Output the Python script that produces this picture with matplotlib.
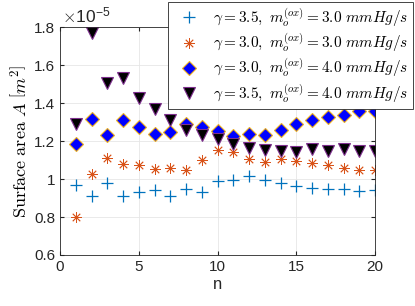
import matplotlib.pyplot as plt
import numpy as np

plt.rcParams['font.family'] = 'Liberation Sans'
plt.rcParams['mathtext.fontset'] = 'cm'

n = np.arange(1, 21)

# surface area, in units of 1e-5 m^2
a_35_30 = [0.971, 0.909, 0.977, 0.909, 0.932, 0.941, 0.909, 0.950, 0.930, 0.990,
           0.997, 1.018, 0.997, 0.981, 0.962, 0.955, 0.948, 0.946, 0.939, 0.941]
a_30_30 = [0.799, 1.028, 1.110, 1.077, 1.073, 1.052, 1.060, 1.046, 1.098, 1.155,
           1.140, 1.103, 1.089, 1.105, 1.094, 1.086, 1.073, 1.056, 1.047, 1.049]
a_30_40 = [1.182, 1.315, 1.229, 1.313, 1.276, 1.238, 1.249, 1.287, 1.276, 1.254,
           1.228, 1.238, 1.229, 1.259, 1.289, 1.312, 1.327, 1.336, 1.357, 1.360]
a_35_40 = [1.290, 1.769, 1.507, 1.530, 1.427, 1.369, 1.308, 1.259, 1.233, 1.208,
           1.186, 1.165, 1.154, 1.145, 1.142, 1.160, 1.149, 1.156, 1.147, 1.149]

labels = [r'$\gamma = 3.5,\ m_o^{(ox)} = 3.0\ mmHg/s$',
          r'$\gamma = 3.0,\ m_o^{(ox)} = 3.0\ mmHg/s$',
          r'$\gamma = 3.0,\ m_o^{(ox)} = 4.0\ mmHg/s$',
          r'$\gamma = 3.5,\ m_o^{(ox)} = 4.0\ mmHg/s$']

fig = plt.figure(figsize=(4.15, 3.06), dpi=100)
ax = fig.add_axes([60/415, 1 - 255/306, 315/415, 228/306])

ax.plot(n, a_35_30, '+', color='#0072BD', ms=8, mew=0.9, ls='none', label=labels[0])
# matlab style asterisk (8 spokes)
ax.plot(n, a_30_30, marker=(8, 2, 0), color='#D95319', ms=7.5, mew=0.6, ls='none', label=labels[1])
ax.plot(n, a_30_40, 'D', mfc='#0000FF', mec='#EDB120', ms=7, mew=0.8, ls='none', label=labels[2])
ax.plot(n, a_35_40, 'v', mfc='k', mec='#7E2F8E', ms=9, mew=0.8, ls='none', label=labels[3])

ax.set_xlim(0, 20)
ax.set_ylim(0.6, 1.8)
ax.set_xticks([0, 5, 10, 15, 20])
ax.set_yticks([0.6, 0.8, 1.0, 1.2, 1.4, 1.6, 1.8])
ax.set_yticklabels(['0.6', '0.8', '1', '1.2', '1.4', '1.6', '1.8'])
ax.tick_params(direction='in', length=3, labelsize=11, colors='#262626', top=True, right=True,
               labelcolor='#262626')
ax.grid(True, color='#E6E6E6', lw=0.6)
ax.set_axisbelow(True)
for s in ax.spines.values():
    s.set_color('#262626')
    s.set_linewidth(0.6)

ax.set_xlabel('n', fontsize=12, color='#262626', labelpad=2)
ax.set_ylabel(r'$\mathrm{Surface\ area}\ A\ \left[m^2\right]$', fontsize=13, labelpad=3)
ax.text(0.005, 1.003, r'$\times\mathdefault{10}^{\mathdefault{-5}}$', transform=ax.transAxes,
        fontsize=12.5, color='#262626', va='bottom', ha='left', family='Liberation Sans')

leg = ax.legend(loc='upper right', bbox_to_anchor=(353/315, 1 + 25/228),
                bbox_transform=ax.transAxes, fontsize=11, frameon=True, fancybox=False,
                framealpha=1, edgecolor='#262626', handletextpad=0.5, borderpad=0.3,
                labelspacing=0.2, handlelength=2.2, borderaxespad=0)
leg.get_frame().set_linewidth(0.6)

fig.savefig('out.png', dpi=100)
